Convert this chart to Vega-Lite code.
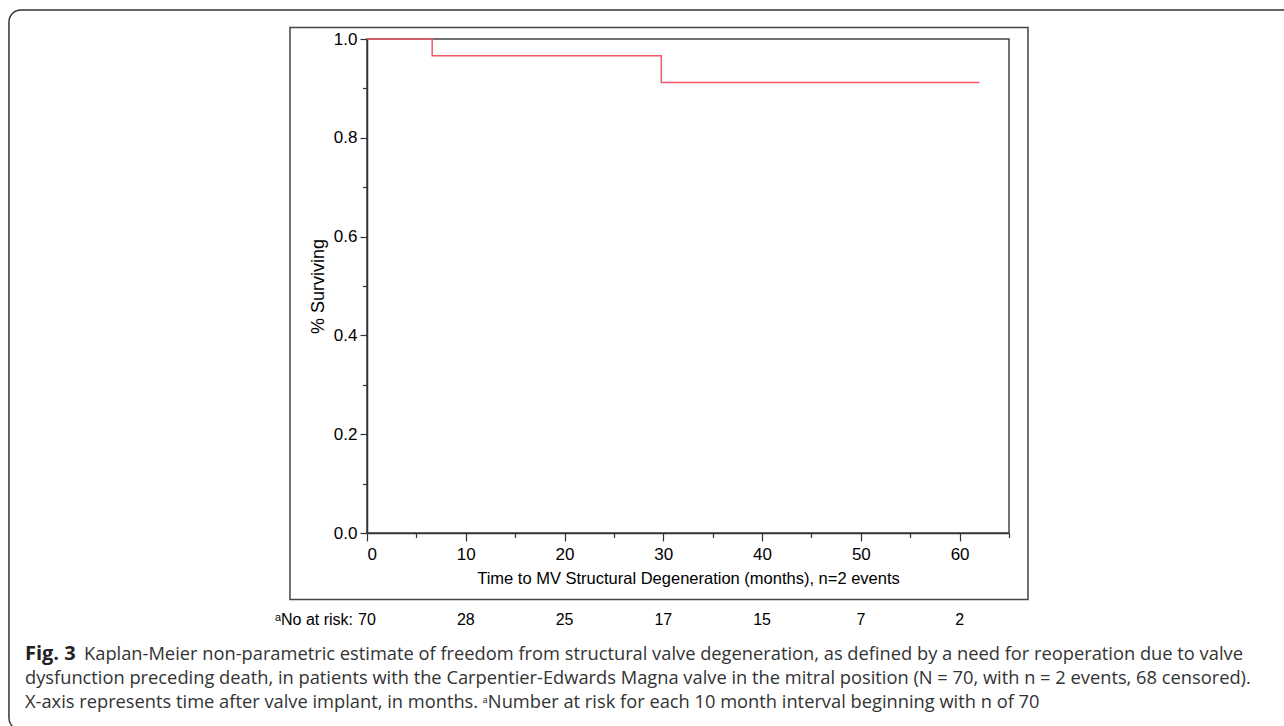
{
  "$schema": "https://vega.github.io/schema/vega-lite/v6.json",
  "width": 642,
  "height": 494,
  "autosize": {"type": "none"},
  "padding": {"left": 367, "top": 39, "right": 275, "bottom": 193},
  "background": "white",
  "config": {
    "view": {"stroke": "#444", "strokeWidth": 1.5},
    "axis": {
      "labelFont": "Liberation Sans",
      "titleFont": "Liberation Sans",
      "labelColor": "black",
      "titleColor": "black",
      "titleFontWeight": "normal",
      "grid": false,
      "domainColor": "#333",
      "tickColor": "#333"
    }
  },
  "datasets": {
    "km": [
      {"month": 0, "surv": 1.0},
      {"month": 6.6, "surv": 0.966},
      {"month": 29.8, "surv": 0.912},
      {"month": 62, "surv": 0.912}
    ],
    "risk": [
      {"month": 0, "n": 70},
      {"month": 10, "n": 28},
      {"month": 20, "n": 25},
      {"month": 30, "n": 17},
      {"month": 40, "n": 15},
      {"month": 50, "n": 7},
      {"month": 60, "n": 2}
    ],
    "caption": [
      {"id": "fig", "text": "Fig. 3"},
      {"id": "l1", "text": "Kaplan-Meier non-parametric estimate of freedom from structural valve degeneration, as defined by a need for reoperation due to valve"},
      {"id": "l2", "text": "dysfunction preceding death, in patients with the Carpentier-Edwards Magna valve in the mitral position (N = 70, with n = 2 events, 68 censored)."},
      {"id": "l3", "text": "X-axis represents time after valve implant, in months. ᵃNumber at risk for each 10 month interval beginning with n of 70"},
      {"id": "risklabel", "text": "ᵃNo at risk:"}
    ],
    "frame": [{"part": "frame"}]
  },
  "layer": [
    {
      "data": {"name": "frame"},
      "mark": {"type": "rect", "fill": "transparent", "stroke": "#333", "strokeWidth": 1.5, "cornerRadius": 12},
      "encoding": {
        "x": {"datum": -36.25, "type": "quantitative", "scale": {"domain": [0, 65], "nice": false}, "axis": null},
        "x2": {"datum": 94.5},
        "y": {"datum": 1.0587, "type": "quantitative", "scale": {"domain": [0, 1], "nice": false}, "axis": null},
        "y2": {"datum": -0.3988}
      }
    },
    {
      "data": {"name": "frame"},
      "mark": {"type": "rect", "fill": "transparent", "stroke": "#444", "strokeWidth": 1.5},
      "encoding": {
        "x": {"datum": -7.8, "type": "quantitative", "scale": {"domain": [0, 65], "nice": false},
          "axis": {"orient": "bottom", "values": [5, 15, 25, 35, 45, 55, 65], "labels": false, "domain": false, "tickSize": 4.5, "tickWidth": 1.2, "title": null}},
        "x2": {"datum": 66.92},
        "y": {"datum": 1.0233, "type": "quantitative", "scale": {"domain": [0, 1], "nice": false},
          "axis": {"orient": "left", "values": [0.1, 0.3, 0.5, 0.7, 0.9], "labels": false, "domain": false, "tickSize": 4.5, "tickWidth": 1.2, "title": null}},
        "y2": {"datum": -0.1346}
      }
    },
    {
      "data": {"name": "km"},
      "mark": {"type": "line", "interpolate": "step-after", "color": "#f25a66", "strokeWidth": 1.5},
      "encoding": {
        "x": {"field": "month", "type": "quantitative", "scale": {"domain": [0, 65], "nice": false},
          "axis": {"orient": "bottom", "values": [0, 10, 20, 30, 40, 50, 60], "tickSize": 8, "tickWidth": 1.2, "domainWidth": 1.5, "labelPadding": 5, "labelFontSize": 17, "titleFontSize": 16.5, "titlePadding": 8, "title": "Time to MV Structural Degeneration (months), n=2 events"}},
        "y": {"field": "surv", "type": "quantitative", "scale": {"domain": [0, 1], "nice": false},
          "axis": {"orient": "left", "values": [0, 0.2, 0.4, 0.6, 0.8, 1.0], "format": ".1f", "tickSize": 7, "tickWidth": 1.2, "domainWidth": 1.5, "labelPadding": 3, "labelFontSize": 17, "titleFontSize": 18, "titlePadding": 6, "title": "% Surviving"}}
      }
    },
    {
      "data": {"name": "risk"},
      "mark": {"type": "text", "font": "Liberation Sans", "fontSize": 16, "color": "black", "align": "center", "baseline": "middle"},
      "encoding": {
        "x": {"field": "month", "type": "quantitative", "scale": {"domain": [0, 65], "nice": false}, "axis": null},
        "y": {"datum": -0.177, "type": "quantitative", "scale": {"domain": [0, 1], "nice": false}, "axis": null},
        "text": {"field": "n", "type": "nominal"}
      }
    },
    {
      "data": {"name": "caption"},
      "transform": [{"filter": "datum.id === 'risklabel'"}],
      "mark": {"type": "text", "font": "Liberation Sans", "fontSize": 16, "color": "black", "align": "right", "baseline": "middle", "dx": -14},
      "encoding": {
        "x": {"datum": 0, "type": "quantitative", "scale": {"domain": [0, 65], "nice": false}, "axis": null},
        "y": {"datum": -0.177, "type": "quantitative", "scale": {"domain": [0, 1], "nice": false}, "axis": null},
        "text": {"field": "text", "type": "nominal"}
      }
    },
    {
      "data": {"name": "caption"},
      "transform": [{"filter": "datum.id === 'fig'"}],
      "mark": {"type": "text", "font": "Open Sans", "fontSize": 20, "fontWeight": "bold", "color": "#222", "align": "left", "baseline": "alphabetic"},
      "encoding": {
        "x": {"datum": -34.63, "type": "quantitative", "scale": {"domain": [0, 65], "nice": false}, "axis": null},
        "y": {"datum": -0.2571, "type": "quantitative", "scale": {"domain": [0, 1], "nice": false}, "axis": null},
        "text": {"field": "text", "type": "nominal"}
      }
    },
    {
      "data": {"name": "caption"},
      "transform": [{"filter": "datum.id === 'l1'"}],
      "mark": {"type": "text", "font": "Open Sans", "fontSize": 18.3, "color": "#333", "align": "left", "baseline": "alphabetic"},
      "encoding": {
        "x": {"datum": -28.65, "type": "quantitative", "scale": {"domain": [0, 65], "nice": false}, "axis": null},
        "y": {"datum": -0.2571, "type": "quantitative", "scale": {"domain": [0, 1], "nice": false}, "axis": null},
        "text": {"field": "text", "type": "nominal"}
      }
    },
    {
      "data": {"name": "caption"},
      "transform": [{"filter": "datum.id === 'l2'"}],
      "mark": {"type": "text", "font": "Open Sans", "fontSize": 18.3, "color": "#333", "align": "left", "baseline": "alphabetic"},
      "encoding": {
        "x": {"datum": -34.63, "type": "quantitative", "scale": {"domain": [0, 65], "nice": false}, "axis": null},
        "y": {"datum": -0.3056, "type": "quantitative", "scale": {"domain": [0, 1], "nice": false}, "axis": null},
        "text": {"field": "text", "type": "nominal"}
      }
    },
    {
      "data": {"name": "caption"},
      "transform": [{"filter": "datum.id === 'l3'"}],
      "mark": {"type": "text", "font": "Open Sans", "fontSize": 18.3, "color": "#333", "align": "left", "baseline": "alphabetic"},
      "encoding": {
        "x": {"datum": -34.63, "type": "quantitative", "scale": {"domain": [0, 65], "nice": false}, "axis": null},
        "y": {"datum": -0.3542, "type": "quantitative", "scale": {"domain": [0, 1], "nice": false}, "axis": null},
        "text": {"field": "text", "type": "nominal"}
      }
    }
  ],
  "resolve": {"axis": {"x": "independent", "y": "independent"}}
}
